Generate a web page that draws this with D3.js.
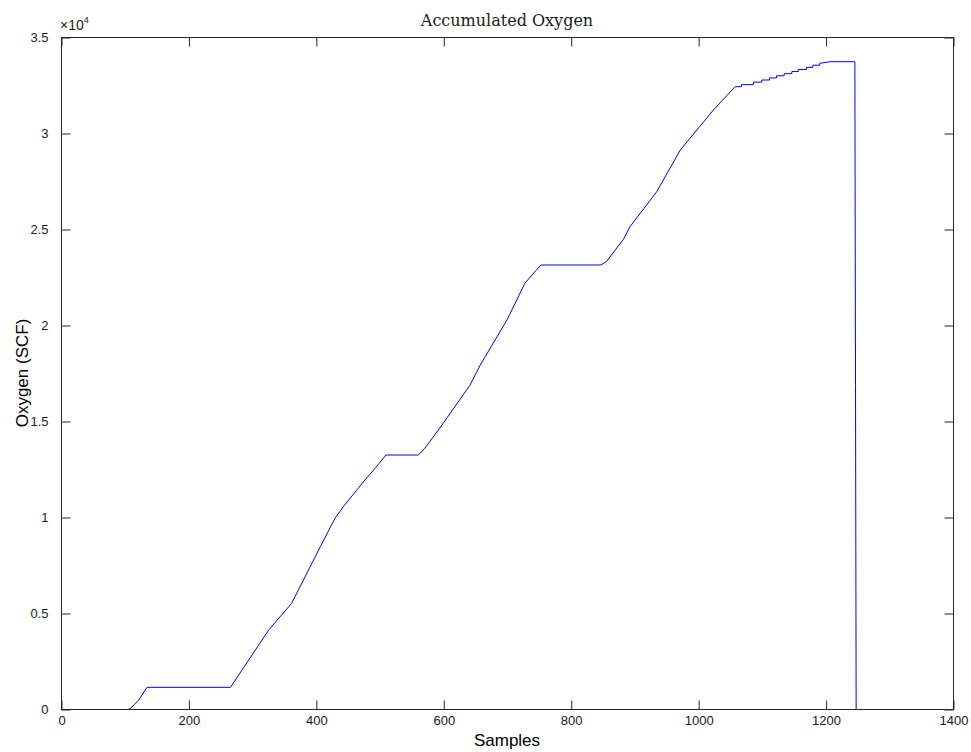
<!DOCTYPE html>
<html>
<head>
<meta charset="utf-8">
<script src="https://cdn.jsdelivr.net/npm/d3@7"></script>
<style>
html,body{margin:0;padding:0;background:#fff;}
svg{display:block;}
</style>
</head>
<body>
<svg id="chart" width="971" height="752"></svg>
<script>
// ---- data ----
const sampleX = [106,108,122,135,266,326,362,407,430,443,477,493,510,561,571,598,642,658,700,728,753,847,856,883,893,935,972,1024,1058,
  1068,1068,1087,1087,1100,1100,1112,1112,1123,1123,1135,1135,1147,1147,1157,1157,1170,1170,1180,1180,1191,1191,1207,1246,1247,1248];
const oxygenY = [0,0,470,1130,1130,4115,5505,8453,9932,10536,11927,12536,13229,13229,13578,14792,16875,17917,20260,22172,23125,23125,23297,24479,25120,26943,29115,31198,32411,
  32411,32520,32520,32650,32650,32760,32760,32870,32870,32980,32980,33090,33090,33200,33200,33310,33310,33420,33420,33530,33530,33630,33714,33714,16840,0];
const xTicks = [0,200,400,600,800,1000,1200,1400];
const yTicks = [0,5000,10000,15000,20000,25000,30000,35000];
const yTickLabels = ["0","0.5","1","1.5","2","2.5","3","3.5"];
const titleText = "Accumulated Oxygen";
const xLabel = "Samples";
const yLabel = "Oxygen (SCF)";

// ---- layout ----
const L = 61, R = 953, T = 37, B = 709;
const svg = d3.select("#chart");
const x = d3.scaleLinear().domain([0,1400]).range([L,R]);
const y = d3.scaleLinear().domain([0,35000]).range([B,T]);
const axisColor = "#262626";
const tickFont = "Liberation Sans, Arial, sans-serif";

// frame
svg.append("rect").attr("x",L+0.5).attr("y",T+0.5).attr("width",R-L).attr("height",B-T)
  .attr("fill","none").attr("stroke",axisColor).attr("stroke-width",1);

// axes (inward ticks, mirrored)
const tl = 9;
const xb = svg.append("g").attr("transform",`translate(0.5,${B+0.5})`)
  .call(d3.axisBottom(x).tickValues(xTicks).tickSize(-tl).tickPadding(tl+6).tickFormat(d3.format("d")));
const xt = svg.append("g").attr("transform",`translate(0.5,${T+0.5})`)
  .call(d3.axisTop(x).tickValues(xTicks).tickSize(-tl).tickFormat(""));
const yl = svg.append("g").attr("transform",`translate(${L+0.5},0.5)`)
  .call(d3.axisLeft(y).tickValues(yTicks).tickSize(-tl).tickPadding(tl+4).tickFormat((d,i)=>yTickLabels[i]));
const yr = svg.append("g").attr("transform",`translate(${R+0.5},0.5)`)
  .call(d3.axisRight(y).tickValues(yTicks).tickSize(-tl).tickFormat(""));
[xb,xt,yl,yr].forEach(g=>{
  g.attr("font-size",null).attr("font-family",null);
  g.select(".domain").remove();
  g.selectAll(".tick line").attr("stroke",axisColor);
  g.selectAll(".tick text").attr("fill","#1a1a1a").style("font-family",tickFont).style("font-size","13px");
});
xb.selectAll(".tick text").attr("dy","0.71em").attr("y",6);

// exponent label
const ex = svg.append("text").attr("x",L-1).attr("y",T-7)
  .style("font-family",tickFont).style("font-size","14px").attr("fill","#1a1a1a");
ex.append("tspan").text("\u00d710");
ex.append("tspan").attr("dy",-7).style("font-size","9px").text("4");

// line
const pts = sampleX.map((d,i)=>[d,oxygenY[i]]);
svg.append("path").datum(pts)
  .attr("fill","none").attr("stroke","#0000ff").attr("stroke-width",1)
  .attr("d",d3.line().x(d=>x(d[0])).y(d=>y(d[1])));

// title
svg.append("text").attr("x",(L+R)/2).attr("y",26).attr("text-anchor","middle")
  .style("font-family","DejaVu Serif, Liberation Serif, serif").style("font-size","16px").attr("fill","#1a1a1a")
  .text(titleText);
// axis labels
svg.append("text").attr("x",(L+R)/2).attr("y",746).attr("text-anchor","middle")
  .style("font-family",tickFont).style("font-size","17px").attr("fill","#000").text(xLabel);
svg.append("text").attr("transform",`translate(28,${(T+B)/2}) rotate(-90)`).attr("text-anchor","middle")
  .style("font-family",tickFont).style("font-size","17px").attr("fill","#000").text(yLabel);
</script>
</body>
</html>
